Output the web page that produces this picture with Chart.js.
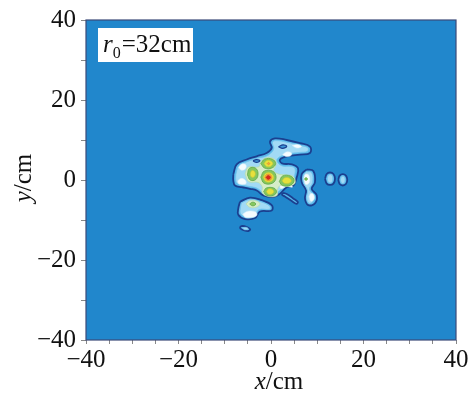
<!DOCTYPE html>
<html>
<head>
<meta charset="utf-8">
<script src="https://cdn.jsdelivr.net/npm/chart.js@4.4.1/dist/chart.umd.min.js"></script>
<style>
  html, body { margin: 0; padding: 0; background: #fff; }
  #wrap { width: 476px; height: 394px; }
</style>
</head>
<body>
<div id="wrap"><canvas id="c"></canvas></div>
<script>
/* --- axes ------------------------------------------------------- */
const xRange = [-40, 40];
const yRange = [-40, 40];
const boxLabel = { r: 'r', sub: '0', rest: '=32cm' };

/* --- contour outlines, [x, y] in cm ----------------------------- */
// level 1 : outermost contour (navy line)
const level1 = [
  [[-8.15,1.46],[-7.42,3.9],[-5.25,5.12],[-3.09,5.93],[-0.93,6.76],[0.15,7.98],[-0.22,9.59],[0.86,10.41],
   [3.39,10.0],[6.27,9.2],[8.43,8.37],[8.43,6.76],[6.27,6.34],[3.68,5.98],[1.95,5.12],[2.38,4.15],[4.54,3.9],
   [5.84,2.93],[5.56,0.66],[4.82,-1.39],[3.39,-1.78],[1.95,-3.41],[0.5,-4.22],[-1.66,-3.83],[-3.09,-2.61],
   [-4.54,-2.2],[-6.34,-1.78],[-7.78,-1.39],[-8.15,-0.17]],
  [[-6.7,-5.44],[-4.54,-4.39],[-2.01,-5.05],[0.15,-6.27],[0.15,-7.63],[-2.38,-7.88],[-3.46,-9.51],
   [-5.62,-9.76],[-7.07,-8.71],[-7.07,-7.07]],
  [[-6.75,-11.75],[-6.2,-11.5],[-5.2,-11.8],[-4.5,-12.35],[-4.9,-12.75],[-5.9,-12.55],[-6.6,-12.15]],
  [[2.5,-3.2],[3.4,-3.5],[4.8,-4.6],[5.8,-5.5],[5.5,-5.95],[4.4,-5.2],[3.0,-4.1],[2.4,-3.7]],
  [[7.72,2.68],[9.15,2.27],[9.51,-0.56],[8.8,-2.2],[9.88,-3.83],[9.51,-5.85],[8.06,-6.27],[7.35,-4.63],
   [7.57,-2.61],[6.64,-0.56],[6.64,1.46]],
  [[11.68,0.32],[12.05,1.5],[12.76,1.87],[13.5,1.5],[13.84,0.32],[13.5,-0.9],[12.76,-1.23],[12.05,-0.9]],
  [[14.55,0.05],[14.85,1.1],[15.52,1.47],[16.2,1.1],[16.49,0.05],[16.2,-1.0],[15.52,-1.37],[14.85,-1.0]]
];
// level 2 : pale cyan
const level2 = [
  [[-7.6,1.4],[-7.0,3.4],[-5.1,4.6],[-3.0,5.4],[-0.6,6.2],[0.6,7.8],[0.3,9.4],[1.0,9.85],[3.4,9.45],
   [6.2,8.65],[7.9,8.1],[7.9,7.2],[6.2,6.9],[3.6,6.5],[1.3,5.2],[2.2,3.6],[4.5,3.35],[5.2,2.8],[5.0,0.6],
   [4.5,-0.9],[3.1,-1.3],[1.6,-2.9],[0.4,-3.6],[-1.5,-3.25],[-3.0,-2.05],[-4.5,-1.65],[-6.3,-1.25],
   [-7.3,-0.9],[-7.6,-0.15]],
  [[-6.4,-5.7],[-4.5,-4.9],[-2.1,-5.5],[-0.3,-6.5],[-0.3,-7.3],[-2.6,-7.4],[-3.6,-9.0],[-5.5,-9.25],
   [-6.6,-8.4],[-6.6,-6.9]],
  [[7.6,2.1],[8.8,1.8],[9.0,-0.6],[8.3,-2.3],[9.4,-4.0],[9.0,-5.5],[8.2,-5.8],[7.7,-4.5],[7.9,-2.6],
   [7.0,-0.6],[7.0,1.2]],
  [[12.16,0.32],[12.45,1.2],[13.1,1.25],[13.36,0.32],[13.1,-0.6],[12.45,-0.6]],
  [[15.02,0.05],[15.25,0.85],[15.8,0.85],[16.02,0.05],[15.8,-0.75],[15.25,-0.75]],
  [[-6.2,-11.95],[-5.3,-11.85],[-4.9,-12.3],[-5.8,-12.4]]
];
// small dark holes inside the main contour
const holes = [
  [[-3.9,4.75],[-3.2,5.1],[-2.4,4.8],[-3.1,4.4]],
  [[1.6,8.3],[2.6,8.8],[3.4,8.4],[2.5,7.9]]
];
// level 3 : white
const level3 = [
  [[-7.2,-0.2],[-6.5,0.4],[-5.6,0.0],[-5.4,-0.9],[-6.3,-1.1],[-7.0,-0.9]],
  [[-7.0,3.2],[-6.3,4.0],[-5.4,3.7],[-5.6,2.7],[-6.5,2.5]],
  [[2.5,6.3],[3.3,7.0],[4.4,6.8],[4.3,6.1],[3.3,5.9]],
  [[4.6,8.6],[5.6,8.9],[6.6,8.4],[5.6,8.0]],
  [[-6.1,-8.5],[-5.0,-7.8],[-3.3,-8.0],[-3.1,-8.9],[-4.3,-9.4],[-5.6,-9.3]],
  [[7.1,0.4],[7.4,1.4],[8.2,1.2],[8.3,-0.6],[7.5,-1.1]],
  [[8.2,-4.2],[8.6,-3.4],[9.2,-3.6],[9.3,-4.8],[8.6,-5.3]],
  [[1.8,-1.2],[2.9,-1.0],[4.3,-1.2],[4.6,-1.8],[3.4,-1.6],[2.2,-2.2]]
];
// level 4 : pale green
const level4 = [
  [[-5.6,1.5],[-4.9,3.2],[-2.6,3.3],[-2.2,4.6],[-0.8,5.6],[0.8,5.2],[1.1,3.8],[0.6,2.4],[1.6,1.5],
   [3.0,1.3],[4.8,0.9],[5.2,-0.8],[3.8,-1.5],[2.0,-1.4],[1.4,-2.4],[1.3,-3.9],[-0.6,-4.1],[-1.9,-3.2],
   [-1.9,-1.7],[-2.8,-0.6],[-4.8,-0.4]],
  [[-5.4,-6.0],[-4.6,-5.2],[-3.2,-5.2],[-2.4,-6.0],[-3.2,-6.8],[-4.6,-6.8]]
];
// level 5 : green
const level5 = [
  [[-2.2,4.1],[-1.4,5.2],[0.3,5.2],[1.0,4.1],[0.2,3.0],[-1.4,3.0]],
  [[-5.1,1.3],[-4.7,2.9],[-3.4,3.0],[-2.8,1.7],[-3.3,0.1],[-4.5,0.0]],
  [[-2.2,0.7],[-1.5,2.2],[0.4,2.2],[1.1,0.6],[0.3,-0.8],[-1.5,-0.8]],
  [[1.8,-0.4],[2.5,1.0],[4.2,1.0],[5.0,-0.1],[4.2,-1.3],[2.5,-1.4]],
  [[-1.6,-2.9],[-1.0,-2.0],[0.6,-2.0],[1.2,-2.9],[0.6,-3.8],[-1.0,-3.8]],
  [[-4.6,-6.0],[-4.2,-5.6],[-3.6,-5.6],[-3.3,-6.0],[-3.6,-6.4],[-4.2,-6.4]],
  [[7.25,0.25],[7.55,0.6],[7.9,0.25],[7.55,-0.1]]
];
// level 6 : yellow
const level6 = [
  [[-1.5,4.1],[-1.0,4.8],[-0.1,4.8],[0.4,4.1],[-0.1,3.4],[-1.0,3.4]],
  [[-4.5,1.5],[-4.2,2.3],[-3.6,2.2],[-3.4,1.3],[-3.8,0.7],[-4.3,0.8]],
  [[-1.7,0.7],[-1.1,1.7],[0.0,1.7],[0.6,0.6],[0.0,-0.4],[-1.1,-0.4]],
  [[2.4,-0.2],[2.9,0.5],[3.9,0.5],[4.4,-0.2],[3.9,-0.8],[2.9,-0.8]],
  [[-1.0,-2.9],[-0.6,-2.3],[0.2,-2.3],[0.6,-2.9],[0.2,-3.5],[-0.6,-3.5]]
];
// level 7 : orange
const level7 = [
  [[-1.35,0.7],[-0.95,1.4],[-0.2,1.4],[0.2,0.6],[-0.2,-0.05],[-0.95,-0.05]],
  [[-0.85,4.1],[-0.55,4.4],[-0.25,4.1],[-0.55,3.8]]
];
// level 8 : red
const level8 = [
  [[-1.1,0.65],[-0.6,1.15],[-0.1,0.65],[-0.6,0.15]]
];

/* --- styles per level ------------------------------------------- */
const BG = '#2187cc';
const layers = [
  { shapes: level1, fill: '#58b8ea', line: '#1b3f8f', w: 1.8 },
  { shapes: level2, fill: '#a2daf5', line: '#74c4ee', w: 0.8 },
  { shapes: holes,  fill: '#3d98d8', line: '#1b3f8f', w: 1.2 },
  { shapes: level3, fill: '#f5fbfe', line: '#d8eef9', w: 0.6 },
  { shapes: level4, fill: '#d6edc8', line: '#b8dca0', w: 0.6 },
  { shapes: level5, fill: '#86c65e', line: '#5ea845', w: 0.8 },
  { shapes: level6, fill: '#e8e03c', line: '#c8c832', w: 0.6 },
  { shapes: level7, fill: '#f2a23a', line: '#e08a2a', w: 0.6 },
  { shapes: level8, fill: '#d8261c', line: '#c02018', w: 0.6 }
];

const datasets = [];
layers.forEach(L => L.shapes.forEach(s => {
  datasets.push({
    data: [...s, s[0]].map(([x, y]) => ({ x, y })),
    showLine: true, fill: 'shape', tension: 0.4,
    backgroundColor: L.fill, borderColor: L.line, borderWidth: L.w,
    pointRadius: 0, pointHoverRadius: 0
  });
}));
datasets.forEach((d, i) => d.order = 1000 - i);

const SERIF = "'Liberation Serif', 'Times New Roman', Times, serif";
const fmt = v => (v < 0 ? '\u2212' + Math.abs(v) : '' + v);

/* --- plugins: background, frame, labels ------------------------- */
const deco = {
  id: 'deco',
  beforeDatasetsDraw(chart) {
    const { ctx, chartArea: a } = chart;
    ctx.save();
    ctx.fillStyle = BG;
    ctx.fillRect(a.left, a.top, a.right - a.left, a.bottom - a.top);
    ctx.restore();
  },
  afterDraw(chart) {
    const { ctx, chartArea: a } = chart;
    ctx.save();
    ctx.strokeStyle = '#3b4a78';
    ctx.lineWidth = 1.2;
    ctx.strokeRect(a.left, a.top, a.right - a.left, a.bottom - a.top);

    // r0 box
    const bx = a.left + 12, by = a.top + 8;
    ctx.fillStyle = '#fff';
    ctx.fillRect(bx, by, 95, 34);
    ctx.fillStyle = '#111';
    ctx.textBaseline = 'alphabetic';
    ctx.font = 'italic 25px ' + SERIF;
    ctx.fillText(boxLabel.r, bx + 5, by + 24);
    let w = ctx.measureText(boxLabel.r).width;
    ctx.font = '16px ' + SERIF;
    ctx.fillText(boxLabel.sub, bx + 5 + w, by + 30);
    w += ctx.measureText(boxLabel.sub).width;
    ctx.font = '25px ' + SERIF;
    ctx.fillText(boxLabel.rest, bx + 6 + w, by + 24);

    // axis titles
    ctx.font = 'italic 25px ' + SERIF;
    const xw = ctx.measureText('x').width;
    ctx.font = '25px ' + SERIF;
    const cw = ctx.measureText('/cm').width;
    let x0 = 279 - (xw + cw) / 2;
    ctx.font = 'italic 25px ' + SERIF;
    ctx.fillText('x', x0, 389);
    ctx.font = '25px ' + SERIF;
    ctx.fillText('/cm', x0 + xw, 389);

    ctx.translate(31, 178);
    ctx.rotate(-Math.PI / 2);
    ctx.font = 'italic 25px ' + SERIF;
    const yw = ctx.measureText('y').width;
    x0 = -(yw + cw) / 2;
    ctx.fillText('y', x0, 0);
    ctx.font = '25px ' + SERIF;
    ctx.fillText('/cm', x0 + yw, 0);
    ctx.restore();
  }
};

/* --- chart ------------------------------------------------------ */
new Chart(document.getElementById('c'), {
  type: 'scatter',
  data: { datasets },
  options: {
    responsive: true, maintainAspectRatio: false, animation: false,
    layout: { padding: { left: 0, right: 20, top: 12, bottom: 0 } },
    plugins: { legend: { display: false }, tooltip: { enabled: false } },
    scales: {
      x: {
        min: xRange[0], max: xRange[1],
        afterFit: s => { s.height = 54; },
        grid: { drawOnChartArea: false, tickLength: 4, color: '#888', tickWidth: 1 },
        border: { display: false },
        ticks: { stepSize: 5, autoSkip: false, maxRotation: 0, padding: 1, color: '#111',
                 font: { family: SERIF, size: 25 },
                 callback: v => (v % 20 === 0 ? fmt(v) : '') }
      },
      y: {
        min: yRange[0], max: yRange[1],
        afterFit: s => { s.width = 86; },
        grid: { drawOnChartArea: false, tickLength: 5, color: '#888', tickWidth: 1 },
        border: { display: false },
        ticks: { stepSize: 10, autoSkip: false, padding: 5, color: '#111',
                 font: { family: SERIF, size: 25 },
                 callback: v => (v % 20 === 0 ? fmt(v) : '') }
      }
    }
  },
  plugins: [deco]
});
</script>
</body>
</html>
